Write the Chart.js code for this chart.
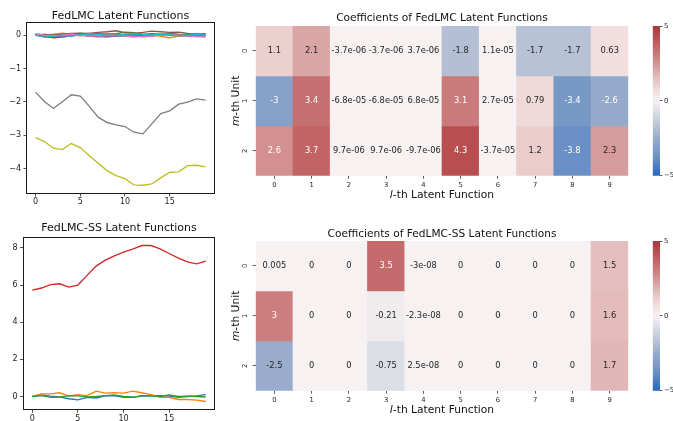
<!DOCTYPE html>
<html><head><meta charset="utf-8">
<script src="https://cdn.jsdelivr.net/npm/chart.js@4/dist/chart.umd.min.js"></script>
<style>
html,body{margin:0;padding:0;background:#fff;width:673px;height:421px;overflow:hidden;position:relative;}
canvas{position:absolute;}
</style></head><body>
<canvas id="lineTop" style="left:0;top:0;width:230px;height:215px" width="230" height="215"></canvas>
<canvas id="lineBot" style="left:0;top:215px;width:230px;height:206px" width="230" height="206"></canvas>
<canvas id="heatTop" style="left:225px;top:0;width:420px;height:215px" width="420" height="215"></canvas>
<canvas id="heatBot" style="left:225px;top:215px;width:420px;height:206px" width="420" height="206"></canvas>
<canvas id="cbarTop" style="left:640px;top:0;width:33px;height:215px" width="33" height="215"></canvas>
<canvas id="cbarBot" style="left:640px;top:215px;width:33px;height:206px" width="33" height="206"></canvas>
<script>
// ---------------- data ----------------
const steps = [0,1,2,3,4,5,6,7,8,9,10,11,12,13,14,15,16,17,18,19];

// FedLMC latent functions (tab10 order)
const lmcBlue   = [0.00,-0.05,-0.07,-0.03,0.02,0.05,0.03,0.00,-0.02,-0.04,-0.03,0.00,0.02,0.04,0.03,0.00,-0.03,-0.01,0.02,0.03];
const lmcOrange = [0.02,0.00,0.03,0.06,0.02,-0.02,0.00,0.03,0.05,0.02,-0.03,-0.05,-0.02,0.01,-0.04,-0.08,-0.03,0.00,0.05,0.03];
const lmcGreen  = [0.00,0.02,0.00,-0.02,0.01,0.03,0.05,0.04,0.02,0.04,0.09,0.07,0.03,0.00,0.02,0.05,0.03,0.02,0.03,0.04];
const lmcRed    = [0.00,-0.03,-0.08,-0.06,-0.02,0.00,-0.03,-0.05,-0.02,0.00,0.02,0.00,-0.03,-0.02,0.00,0.02,0.00,-0.02,0.00,0.01];
const lmcPurple = [0.03,0.01,-0.03,-0.05,-0.02,0.01,0.00,-0.04,-0.06,-0.03,0.00,-0.02,-0.05,-0.03,0.01,0.03,0.00,-0.03,-0.02,-0.04];
const lmcBrown  = [0.00,0.02,0.00,0.03,0.05,0.06,0.05,0.08,0.10,0.13,0.07,0.05,0.08,0.12,0.10,0.08,0.09,0.05,0.02,0.00];
const lmcPink   = [0.04,0.00,-0.02,0.00,0.03,0.00,-0.03,-0.02,0.00,-0.01,-0.03,-0.05,-0.04,-0.02,0.00,0.02,0.00,-0.02,-0.05,-0.06];
const lmcGray   = [-1.71,-1.99,-2.20,-2.00,-1.79,-1.83,-2.13,-2.46,-2.62,-2.69,-2.74,-2.91,-2.96,-2.66,-2.35,-2.27,-2.07,-2.01,-1.91,-1.95];
const lmcOlive  = [-3.07,-3.19,-3.39,-3.43,-3.25,-3.37,-3.61,-3.84,-4.06,-4.21,-4.30,-4.49,-4.50,-4.46,-4.28,-4.11,-4.10,-3.91,-3.90,-3.95];
const lmcCyan   = [0.00,-0.06,-0.03,0.00,-0.03,0.01,0.04,0.02,-0.01,0.00,0.02,0.04,0.02,0.00,0.03,0.01,-0.02,0.00,0.02,0.01];

// FedLMC-SS latent functions
const ssBlue   = [0.00,0.09,0.02,-0.02,-0.12,-0.18,-0.05,-0.08,0.03,0.05,-0.05,-0.05,0.02,0.03,0.05,0.02,-0.05,0.00,0.03,0.10];
const ssOrange = [0.00,0.14,0.14,0.20,0.02,0.10,0.05,0.29,0.18,0.21,0.18,0.29,0.20,0.10,-0.04,-0.04,-0.16,-0.16,-0.20,-0.27];
const ssGreen  = [0.00,0.05,-0.05,-0.03,0.05,0.03,-0.02,0.00,0.05,0.08,0.00,-0.03,0.05,0.03,0.00,0.08,0.00,0.02,0.00,-0.03];
const ssRed    = [5.73,5.84,6.02,6.07,5.89,6.00,6.52,7.02,7.34,7.57,7.77,7.93,8.13,8.13,7.95,7.70,7.45,7.25,7.14,7.29];

// coefficient matrices (rows = m-th unit, columns = l-th latent function)
const lmcCoefRow0 = [1.1, 2.1, -3.7e-06, -3.7e-06, 3.7e-06, -1.8, 1.1e-05, -1.7, -1.7, 0.63];
const lmcCoefRow1 = [-3, 3.4, -6.8e-05, -6.8e-05, 6.8e-05, 3.1, 2.7e-05, 0.79, -3.4, -2.6];
const lmcCoefRow2 = [2.6, 3.7, 9.7e-06, 9.7e-06, -9.7e-06, 4.3, -3.7e-05, 1.2, -3.8, 2.3];
const ssCoefRow0 = [0.005, 0, 0, 3.5, -3e-08, 0, 0, 0, 0, 1.5];
const ssCoefRow1 = [3, 0, 0, -0.21, -2.3e-08, 0, 0, 0, 0, 1.6];
const ssCoefRow2 = [-2.5, 0, 0, -0.75, 2.5e-08, 0, 0, 0, 0, 1.7];

// tick labels
const lineXTicks = [0, 5, 10, 15];
const lmcYTicks = [0, -1, -2, -3, -4];
const ssYTicks = [0, 2, 4, 6, 8];
const heatXLabels = ['0','1','2','3','4','5','6','7','8','9'];
const heatYLabels = ['0','1','2'];
const cbarTicks = [-5, 0, 5];

// ---------------- styling ----------------
const FONT = "'DejaVu Sans', sans-serif";
Chart.defaults.font.family = FONT;
Chart.defaults.color = '#222';
Chart.defaults.animation = false;

const tab10 = ['#1f77b4','#ff7f0e','#2ca02c','#d62728','#9467bd','#8c564b','#e377c2','#7f7f7f','#bcbd22','#17becf'];
const vlagStops = [[-5,'#2369bd'],[-3.8,'#6a8fc4'],[-2.6,'#95a9cb'],[-1.7,'#b8c2d6'],[-0.75,'#dcdee6'],[0,'#f7f1f1'],[1.1,'#ecd0d0'],[2.1,'#d9a5a5'],[3.1,'#cb7a7b'],[4.3,'#b84e50'],[5,'#a9373b']];

function hex2rgb(h){return [parseInt(h.slice(1,3),16),parseInt(h.slice(3,5),16),parseInt(h.slice(5,7),16)];}
function cmap(v){
  v = Math.max(-5, Math.min(5, v));
  for (let i = 0; i < vlagStops.length - 1; i++) {
    const [v0,c0] = vlagStops[i], [v1,c1] = vlagStops[i+1];
    if (v >= v0 && v <= v1) {
      const t = (v - v0) / (v1 - v0), a = hex2rgb(c0), b = hex2rgb(c1);
      return 'rgb(' + a.map((x,k)=>Math.round(x + (b[k]-x)*t)).join(',') + ')';
    }
  }
  return vlagStops[vlagStops.length-1][1];
}
function fmt2g(v){
  if (v === 0) return '0';
  const e = Math.floor(Math.log10(Math.abs(v)));
  if (e < -4 || e >= 2) {
    let [m, ex] = v.toExponential(1).split('e');
    m = m.replace(/\.0$/, '');
    const sign = ex[0] === '-' ? '-' : '+';
    return m + 'e' + sign + ex.replace(/^[+-]/,'').padStart(2,'0');
  }
  let s = v.toPrecision(2);
  if (s.indexOf('.') >= 0) s = s.replace(/0+$/,'').replace(/\.$/,'');
  return s;
}
const uminus = v => (v < 0 ? '\u2212' + Math.abs(v) : String(v));

function drawMixed(ctx, parts, x, y, size){
  const f1 = 'italic ' + size + 'px ' + FONT, f2 = size + 'px ' + FONT;
  ctx.font = f1; const w1 = ctx.measureText(parts[0]).width;
  ctx.font = f2; const w2 = ctx.measureText(parts[1]).width;
  const x0 = x - (w1 + w2) / 2;
  ctx.textAlign = 'left';
  ctx.font = f1; ctx.fillText(parts[0], x0, y);
  ctx.font = f2; ctx.fillText(parts[1], x0 + w1, y);
}

function makeDecor(o){
  return {
    id: 'decor',
    afterDraw(chart){
      const ctx = chart.ctx, a = chart.chartArea;
      ctx.save();
      if (o.frame) {
        ctx.strokeStyle = '#1a1a1a'; ctx.lineWidth = 1;
        const l = Math.round(a.left) - 0.5, t = Math.round(a.top) - 0.5;
        ctx.strokeRect(l, t, Math.round(a.right) - Math.round(a.left) + 1, Math.round(a.bottom) - Math.round(a.top) + 1);
      }
      ctx.fillStyle = '#111'; ctx.textBaseline = 'middle';
      if (o.title) {
        ctx.font = o.titleSize + 'px ' + FONT; ctx.textAlign = 'center';
        ctx.fillText(o.title, (a.left + a.right) / 2, o.titleY);
      }
      if (o.xlabel) drawMixed(ctx, o.xlabel, (a.left + a.right) / 2, o.xlabelY, o.labelSize);
      if (o.ylabel) {
        ctx.save(); ctx.translate(o.ylabelX, (a.top + a.bottom) / 2); ctx.rotate(-Math.PI/2);
        drawMixed(ctx, o.ylabel, 0, 0, o.labelSize); ctx.restore();
      }
      if (o.yTickLabels) {
        const ys = chart.scales.y;
        ctx.font = o.tickSize + 'px ' + FONT; ctx.fillStyle = '#262626'; ctx.textAlign = 'center';
        ys.ticks.forEach((t, i) => {
          ctx.save(); ctx.translate(o.yTickX, ys.getPixelForValue(t.value)); ctx.rotate(-Math.PI/2);
          ctx.fillText(o.yTickLabels[i], 0, 0); ctx.restore();
        });
      }
      ctx.restore();
    }
  };
}

function fixSize(w, h){
  return scale => { if (w !== null) scale.width = w; if (h !== null) scale.height = h; };
}
function setTicks(vals){
  return scale => { scale.ticks = vals.map(v => ({value: v})); };
}

// ---------------- line charts ----------------
function lineChart(id, series, yTicks, L){
  const all = series.flat();
  const lo = Math.min(...all), hi = Math.max(...all), pad = (hi - lo) * 0.05;
  const xpad = (steps[steps.length-1] - steps[0]) * 0.05;
  new Chart(document.getElementById(id), {
    type: 'line',
    data: {
      datasets: series.map((s, i) => ({
        data: s.map((y, k) => ({x: steps[k], y})),
        borderColor: tab10[i], backgroundColor: tab10[i],
        borderWidth: 1.35, pointRadius: 0, tension: 0, fill: false,
        order: series.length - i
      }))
    },
    options: {
      responsive: false, devicePixelRatio: 1,
      layout: {padding: {left: 0, right: L.right, top: L.top, bottom: 0}},
      plugins: {legend: {display: false}, tooltip: {enabled: false}},
      scales: {
        x: {
          type: 'linear', min: steps[0] - xpad, max: steps[steps.length-1] + xpad,
          afterBuildTicks: setTicks(lineXTicks), afterFit: fixSize(null, L.xh),
          border: {display: false},
          grid: {drawOnChartArea: false, drawTicks: true, tickLength: 3.5, tickColor: '#222', tickWidth: 0.8},
          ticks: {font: {size: 8}, color: '#222', padding: 1, maxRotation: 0, autoSkip: false, callback: v => uminus(v)}
        },
        y: {
          type: 'linear', min: lo - pad, max: hi + pad,
          afterBuildTicks: setTicks(yTicks), afterFit: fixSize(L.yw, null),
          border: {display: false},
          grid: {drawOnChartArea: false, drawTicks: true, tickLength: 3.5, tickColor: '#222', tickWidth: 0.8},
          ticks: {font: {size: 8}, color: '#222', padding: 2.5, autoSkip: false, callback: v => uminus(v)}
        }
      }
    },
    plugins: [makeDecor({frame: true, title: L.title, titleSize: 11, titleY: L.titleY})]
  });
}

lineChart('lineTop', [lmcBlue, lmcOrange, lmcGreen, lmcRed, lmcPurple, lmcBrown, lmcPink, lmcGray, lmcOlive, lmcCyan], lmcYTicks,
  {right: 16, top: 23, xh: 22, yw: 27, title: 'FedLMC Latent Functions', titleY: 16});
lineChart('lineBot', [ssBlue, ssOrange, ssGreen, ssRed], ssYTicks,
  {right: 15.6, top: 22.7, xh: 11.7, yw: 23.6, title: 'FedLMC-SS Latent Functions', titleY: 13.5});

// ---------------- heatmaps ----------------
function cellText(rows){
  return {
    id: 'cellText',
    afterDatasetsDraw(chart){
      const ctx = chart.ctx;
      ctx.save(); ctx.font = '8.3px ' + FONT; ctx.textAlign = 'center'; ctx.textBaseline = 'middle';
      rows.forEach((row, r) => {
        chart.getDatasetMeta(r).data.forEach((el, c) => {
          const v = row[c];
          ctx.fillStyle = Math.abs(v) > 2.55 ? '#ffffff' : '#262626';
          ctx.fillText(fmt2g(v), el.x, (el.y + el.base) / 2);
        });
      });
      ctx.restore();
    }
  };
}

function heatChart(id, rows, L){
  new Chart(document.getElementById(id), {
    type: 'bar',
    data: {
      labels: heatXLabels,
      datasets: rows.map((row, r) => ({
        data: row.map(() => [r, r + 1]),
        backgroundColor: row.map(v => cmap(v)),
        borderWidth: 0, barPercentage: 1, categoryPercentage: 1, grouped: false
      }))
    },
    options: {
      responsive: false, devicePixelRatio: 1,
      layout: {padding: {left: 0, right: L.right, top: L.top, bottom: 0}},
      plugins: {legend: {display: false}, tooltip: {enabled: false}},
      scales: {
        x: {
          type: 'category', offset: true, afterFit: fixSize(null, L.xh),
          border: {display: false},
          grid: {offset: false, drawOnChartArea: false, drawTicks: true, tickLength: 3, tickColor: '#333', tickWidth: 0.8},
          ticks: {font: {size: 6.8}, color: '#262626', padding: 2, maxRotation: 0, autoSkip: false}
        },
        y: {
          type: 'linear', min: 0, max: heatYLabels.length, reverse: true,
          afterBuildTicks: setTicks(heatYLabels.map((_, i) => i + 0.5)), afterFit: fixSize(L.yw, null),
          border: {display: false},
          grid: {drawOnChartArea: false, drawTicks: true, tickLength: 3, tickColor: '#333', tickWidth: 0.8},
          ticks: {display: false}
        }
      }
    },
    plugins: [cellText(rows), makeDecor({
      title: L.title, titleSize: 10.6, titleY: L.titleY,
      xlabel: ['l', '-th Latent Function'], xlabelY: L.xlabelY,
      ylabel: ['m', '-th Unit'], ylabelX: 11, labelSize: 10.7,
      yTickLabels: heatYLabels, yTickX: 20.5, tickSize: 6.8
    })]
  });
}

heatChart('heatTop', [lmcCoefRow0, lmcCoefRow1, lmcCoefRow2],
  {right: 16.7, top: 26, xh: 39.3, yw: 30.7, title: 'Coefficients of FedLMC Latent Functions', titleY: 18.5, xlabelY: 195.7});
heatChart('heatBot', [ssCoefRow0, ssCoefRow1, ssCoefRow2],
  {right: 16.7, top: 26, xh: 30.3, yw: 30.7, title: 'Coefficients of FedLMC-SS Latent Functions', titleY: 19, xlabelY: 195});

// ---------------- colorbars ----------------
function colorbar(id, bottomPad){
  new Chart(document.getElementById(id), {
    type: 'bar',
    data: {
      labels: [''],
      datasets: [{
        data: [[cbarTicks[0], cbarTicks[cbarTicks.length-1]]],
        borderWidth: 0, barPercentage: 1, categoryPercentage: 1,
        backgroundColor: ctx => {
          const chart = ctx.chart, ys = chart.scales.y;
          if (!ys || !chart.chartArea) return '#ccc';
          const g = chart.ctx.createLinearGradient(0, ys.getPixelForValue(-5), 0, ys.getPixelForValue(5));
          vlagStops.forEach(([v, c]) => g.addColorStop((v + 5) / 10, c));
          return g;
        }
      }]
    },
    options: {
      responsive: false, devicePixelRatio: 1,
      layout: {padding: {left: 12.7, right: 0, top: 26, bottom: bottomPad}},
      plugins: {legend: {display: false}, tooltip: {enabled: false}},
      scales: {
        x: {display: false},
        y: {
          type: 'linear', position: 'right', min: -5, max: 5,
          afterBuildTicks: setTicks(cbarTicks), afterFit: fixSize(13, null),
          border: {display: false},
          grid: {drawOnChartArea: false, drawTicks: true, tickLength: 2.5, tickColor: '#333', tickWidth: 0.8},
          ticks: {font: {size: 6.8}, color: '#262626', padding: 1.5, autoSkip: false, callback: v => uminus(v)}
        }
      }
    }
  });
}
colorbar('cbarTop', 39.3);
colorbar('cbarBot', 30.3);
</script>
</body></html>
